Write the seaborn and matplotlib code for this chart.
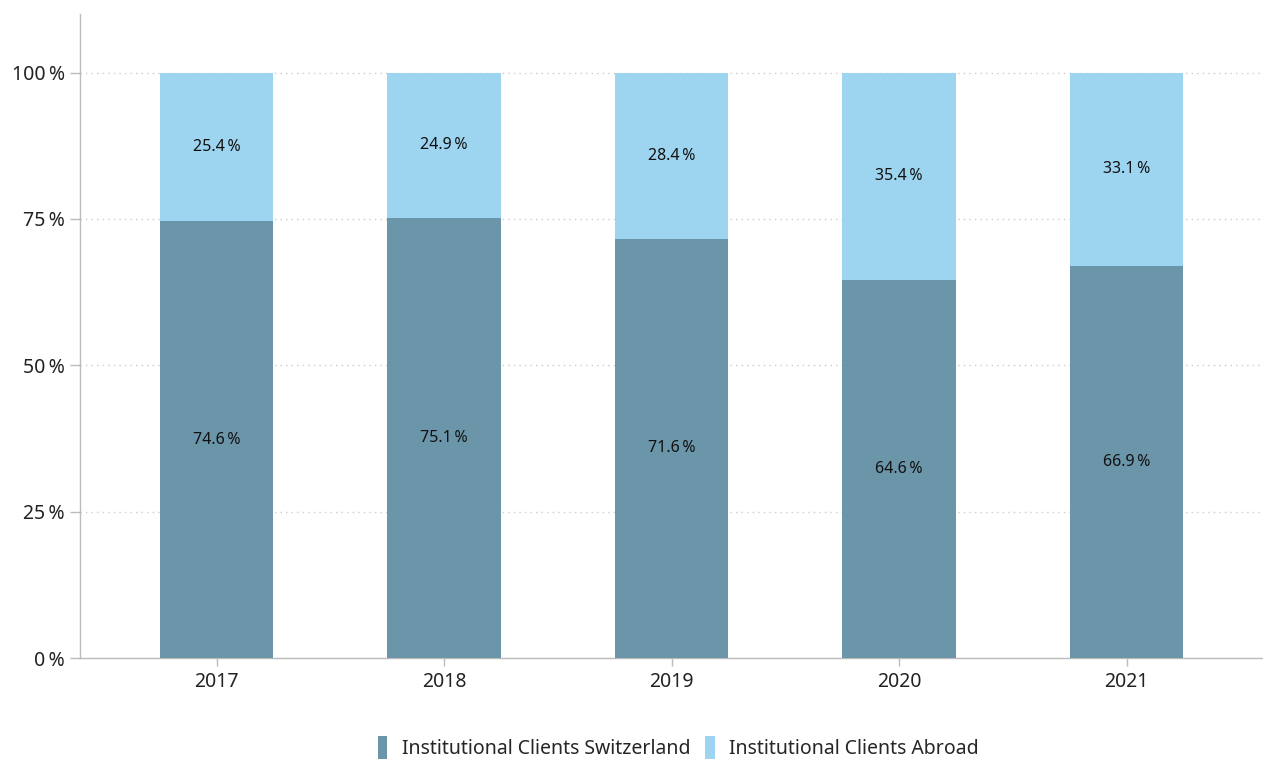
import matplotlib
matplotlib.use("Agg")
import matplotlib.pyplot as plt
from matplotlib.patches import Patch
import seaborn as sns
import pandas as pd

years = ["2017", "2018", "2019", "2020", "2021"]
swiss = [74.6, 75.1, 71.6, 64.6, 66.9]
abroad = [25.4, 24.9, 28.4, 35.4, 33.1]
series_names = ["Institutional Clients Switzerland", "Institutional Clients Abroad"]
yticks = [0, 25, 50, 75, 100]

c_swiss = "#6b95a8"
c_abroad = "#9dd4f0"

sns.set_theme(style="white")
plt.rcParams['font.family'] = ['Noto Sans', 'DejaVu Sans']

df = pd.DataFrame({"year": years, "swiss": swiss, "abroad": abroad})
df["total"] = df["swiss"] + df["abroad"]

fig = plt.figure(figsize=(12.63, 7.6), dpi=100)
ax = fig.add_axes([80/1263, 102/760, 1 - 80/1263, (658-14)/760])

sns.barplot(data=df, x="year", y="total", color=c_abroad, width=0.5, ax=ax,
            saturation=1, zorder=3, linewidth=0)
sns.barplot(data=df, x="year", y="swiss", color=c_swiss, width=0.5, ax=ax,
            saturation=1, zorder=3, linewidth=0)

for i, (s, a) in enumerate(zip(swiss, abroad)):
    ax.text(i, s / 2, f"{s:.1f}\u2009%", ha="center", va="center", fontsize=11.5, color="#111111", zorder=4)
    ax.text(i, s + a / 2, f"{a:.1f}\u2009%", ha="center", va="center", fontsize=11.5, color="#111111", zorder=4)

ax.set_xlim(-0.6, 4.6)
ax.set_ylim(0, 110)
ax.set_yticks(yticks)
ax.set_yticklabels([f"{v}\u2009%" for v in yticks], fontsize=14, color="#222222")
ax.tick_params(axis="x", bottom=True, labelsize=14, labelcolor="#222222", length=6, color="#bbbbbb", width=1, pad=4)
ax.tick_params(axis="y", left=True, length=7, color="#bbbbbb", width=1, pad=4)
ax.set_xlabel("")
ax.set_ylabel("")

for v in yticks[1:]:
    ax.axhline(v, color="#cccccc", linestyle=(0, (1, 3)), linewidth=1, zorder=1)

for side in ["top", "right"]:
    ax.spines[side].set_visible(False)
for side in ["left", "bottom"]:
    ax.spines[side].set_color("#bbbbbb")
    ax.spines[side].set_linewidth(1)

handles = [Patch(facecolor=c_swiss, linewidth=0), Patch(facecolor=c_abroad, linewidth=0)]
fig.legend(handles, series_names, loc="center", bbox_to_anchor=(0.537, 0.016),
           ncol=2, frameon=False, fontsize=14, handlelength=0.5, handleheight=1.4,
           handletextpad=0.75, columnspacing=0.75)

fig.savefig("out.png", dpi=100)
